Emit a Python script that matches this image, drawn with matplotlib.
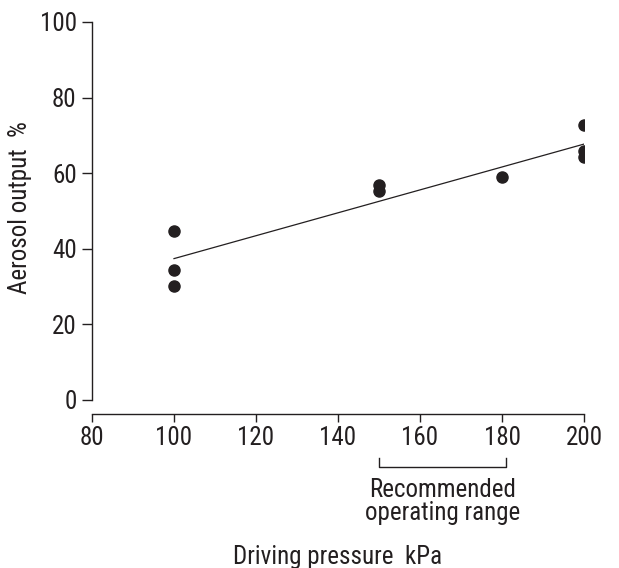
import matplotlib.pyplot as plt
import numpy as np

pressure = [100, 100, 100, 150, 150, 180, 200, 200, 200]
output = [44.7, 34.4, 30.2, 56.9, 55.3, 59.0, 72.8, 66.0, 64.3]
fit_x = [100, 200]
fit_y = [37.4, 67.7]
range_x = [150, 181]
x_ticks = [80, 100, 120, 140, 160, 180, 200]
y_ticks = [0, 20, 40, 60, 80, 100]

plt.rcParams['font.family'] = ['Roboto Condensed', 'Archivo Narrow', 'Liberation Sans', 'DejaVu Sans']
plt.rcParams['font.size'] = 18
ink = '#231f20'

fig = plt.figure(figsize=(6.19, 5.68), dpi=100)
ax = fig.add_axes([0.1486, 0.2958, 0.7949, 0.6655])

ax.plot(fit_x, fit_y, color=ink, linewidth=0.9)
ax.plot(pressure, output, 'o', color=ink, markersize=8, linestyle='none')

ax.set_xlim(80, 200)
ax.set_ylim(0, 100)
ax.set_xticks(x_ticks)
ax.set_yticks(y_ticks)
for s in ['top', 'right']:
    ax.spines[s].set_visible(False)
ax.spines['bottom'].set_position(('outward', 10))
for s in ['left', 'bottom']:
    ax.spines[s].set_color(ink)
    ax.spines[s].set_linewidth(1.0)
ax.tick_params(colors=ink, labelsize=18, width=1.0, length=7, pad=4)
ax.tick_params(axis='x', length=6, pad=3)

# recommended range bracket under the x axis
bx = [range_x[0], range_x[0], range_x[1], range_x[1]]
by = [-15.3, -17.7, -17.7, -15.3]
ax.plot(bx, by, color=ink, linewidth=1.0, clip_on=False)
ax.text(np.mean(range_x), -26.8, 'Recommended\noperating range', ha='center', va='center',
        fontsize=18, color=ink, linespacing=0.95)

ax.set_xlabel('Driving pressure  kPa', fontsize=18, color=ink)
ax.xaxis.set_label_coords(0.5, -0.415)
ax.xaxis.label.set_va('center')
ax.set_ylabel('Aerosol output  %', fontsize=18, color=ink)
ax.yaxis.set_label_coords(-0.146, 0.51)
ax.yaxis.label.set_va('center')

fig.savefig('out.png', dpi=100)
